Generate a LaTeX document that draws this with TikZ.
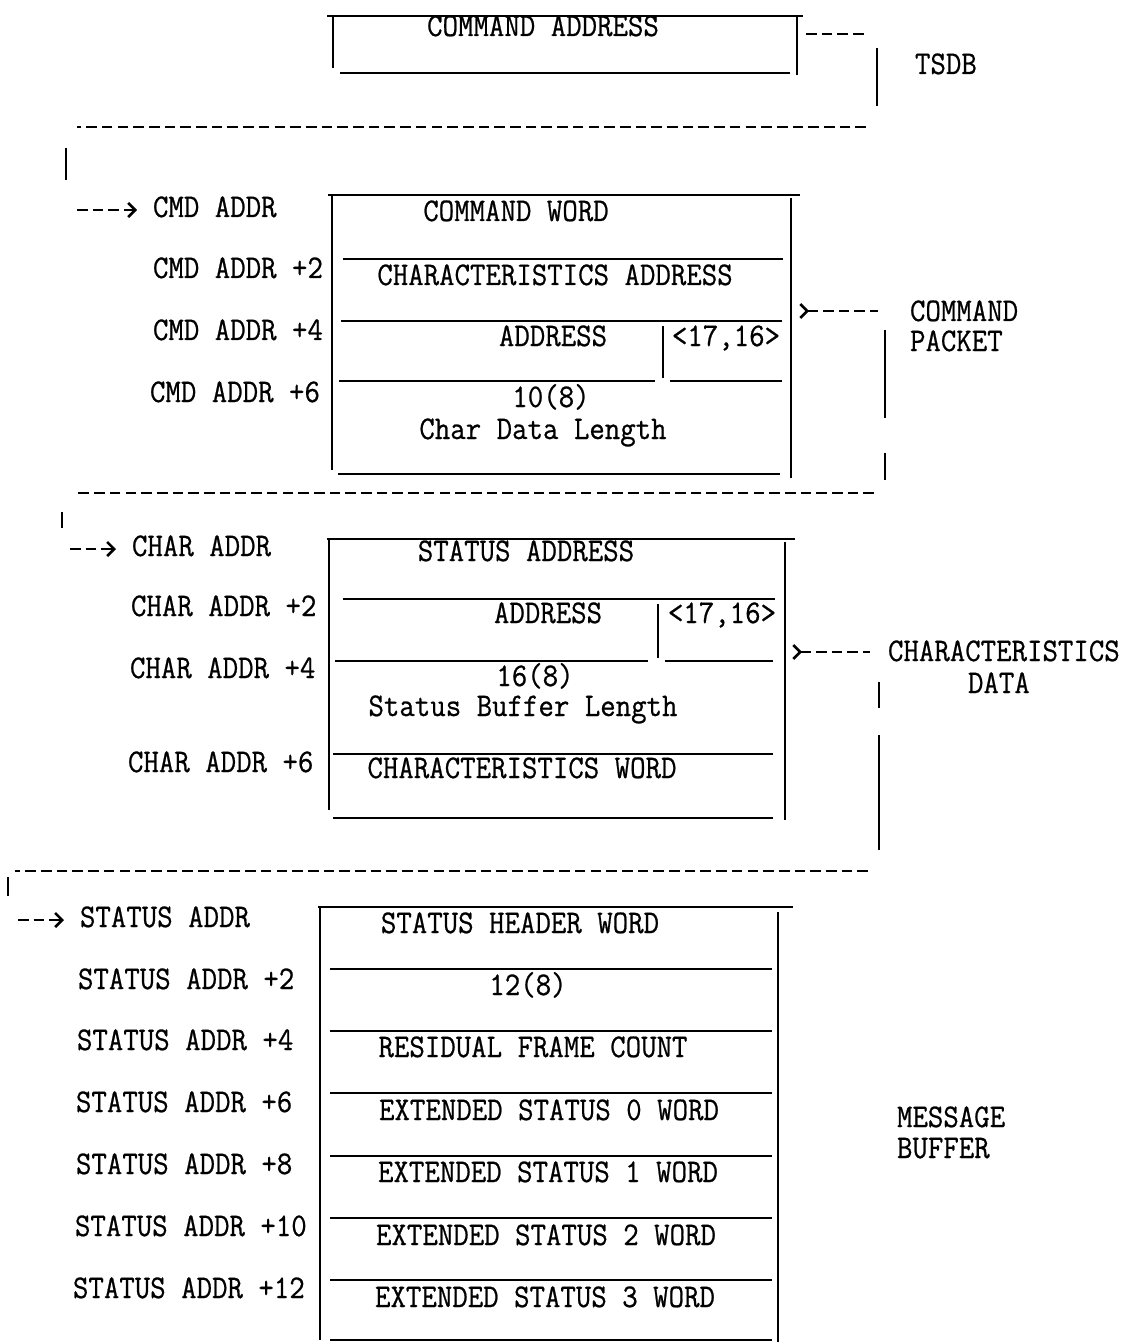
\documentclass[tikz,border=0pt]{standalone}
\usepackage{fontspec}
\setmonofont{Latin Modern Mono}[FakeBold=0.7]
\usetikzlibrary{arrows.meta}
\begin{document}
\begin{tikzpicture}[x=0.5pt,y=-0.5pt,
  tw/.style={font=\ttfamily\fontsize{15}{18}\selectfont, inner sep=0pt, outer sep=0pt, yscale=1.1, transform shape},
  lab/.style={tw, anchor=base west},
  cell/.style={tw, anchor=base},
  ln/.style={line width=1.2pt},
  dsh/.style={line width=1.3pt, dash pattern=on 5.3pt off 2.55pt},
  tipk/.style={},
  ptr/.style={dsh, -{Straight Barb[length=3.5pt,width=7pt,line width=1.3pt]}},
  brc/.style={dsh, {Straight Barb[reversed,length=3.5pt,width=7pt,line width=1.3pt]}-}
]
\useasboundingbox (0,0) rectangle (1142,1342);

% ---------------- TSDB ----------------
\node[cell] (cmdaddr) at (543,36) {COMMAND ADDRESS};
\node[lab] (tsdb) at (915,74) {TSDB};
\draw[ln] (327,16) -- (803,16);
\draw[ln] (333,15) -- (333,68);
\draw[ln] (797,16) -- (797,75);
\draw[ln] (340,73) -- (790,73);
\coordinate (t1) at (806,34); \coordinate (t2) at (866,34);
\draw[dsh] (t1) -- (t2);
\coordinate (t3) at (877,48); \coordinate (t4) at (877,106);
\draw[ln] (t3) -- (t4);
\coordinate (t5) at (77,127); \coordinate (t6) at (866,127);
\draw[dsh] (t6) -- (t5);
\coordinate (t7) at (66,148); \coordinate (t8) at (66,180);
\draw[ln] (t7) -- (t8);

% ---------------- COMMAND PACKET ----------------
\node[lab] (cmd0) at (153,217) {CMD ADDR};
\coordinate (a0) at (77,210);
\draw[ptr] (a0) -- ([xshift=-8pt]cmd0.west |- a0);
\node[lab] (cmd2) at (153,278) {CMD ADDR +2};
\node[lab] (cmd4) at (153,340) {CMD ADDR +4};
\node[lab] (cmd6) at (150,402) {CMD ADDR +6};

\node[cell] (cw) at (516,221) {COMMAND WORD};
\node[cell] (ca) at (555,285) {CHARACTERISTICS ADDRESS};
\node[cell] (ad1) at (553,346) {ADDRESS};
\node[cell] (bits1) at (726,346) {<17,16>};
\node[cell] (len1) at (551,407) {10(8)};
\node[cell] (cdl) at (543,439) {Char Data Length};

\draw[ln] (328,195) -- (800,195);
\draw[ln] (332,196) -- (332,470);
\draw[ln] (791,198) -- (791,478);
\draw[ln] (343,259) -- (783,259);
\draw[ln] (341,321) -- (782,321);
\draw[ln] (339,381) -- (655,381);
\draw[ln] (670,381) -- (782,381);
\draw[ln] (663,326) -- (663,378);
\draw[ln] (338,474) -- (780,474);

\node[lab] (cp1) at (910,321) {COMMAND};
\node[lab] (cp2) at (910,351) {PACKET};
\coordinate (b1) at (799,311); \coordinate (b2) at (878,311);
\draw[brc] (b1) -- (b2);
\draw[ln] (885,330) -- (885,418);
\draw[ln] (885,453) -- (885,480);
\coordinate (c1) at (75,493); \coordinate (c2) at (874,493);
\draw[dsh] (c2) -- (c1);
\coordinate (c3) at (62,512); \coordinate (c4) at (62,528);
\draw[ln] (c3) -- (c4);

% ---------------- CHARACTERISTICS DATA ----------------
\node[lab] (ch0) at (132,556) {CHAR ADDR};
\coordinate (a1) at (70,549);
\draw[ptr] (a1) -- ([xshift=-8pt]ch0.west |- a1);
\node[lab] (ch2) at (131,616) {CHAR ADDR +2};
\node[lab] (ch4) at (130,678) {CHAR ADDR +4};
\node[lab] (ch6) at (128,772) {CHAR ADDR +6};

\node[cell] (sa) at (526,561) {STATUS ADDRESS};
\node[cell] (ad2) at (548,623) {ADDRESS};
\node[cell] (bits2) at (722,623) {<17,16>};
\node[cell] (len2) at (535,686) {16(8)};
\node[cell] (sbl) at (523,716) {Status Buffer Length};
\node[cell] (chw) at (522,778) {CHARACTERISTICS WORD};

\draw[ln] (327,539) -- (795,539);
\draw[ln] (329,540) -- (329,810);
\draw[ln] (785,542) -- (785,820);
\draw[ln] (343,599) -- (775,599);
\draw[ln] (335,661) -- (648,661);
\draw[ln] (665,661) -- (773,661);
\draw[ln] (658,604) -- (658,658);
\draw[ln] (333,754) -- (773,754);
\draw[ln] (333,818) -- (773,818);

\node[lab] (cd1) at (888,661) {CHARACTERISTICS};
\node[lab] (cd2) at (968,693) {DATA};
\coordinate (b3) at (792,652); \coordinate (b4) at (870,652);
\draw[brc] (b3) -- (b4);
\draw[ln] (879,682) -- (879,708);
\draw[ln] (879,735) -- (879,850);
\coordinate (d1) at (15,871); \coordinate (d2) at (868,871);
\draw[dsh] (d2) -- (d1);
\coordinate (d3) at (8,877); \coordinate (d4) at (8,896);
\draw[ln] (d3) -- (d4);

% ---------------- MESSAGE BUFFER ----------------
\node[lab] (st0) at (80,927) {STATUS ADDR};
\coordinate (a2) at (18,920);
\draw[ptr] (a2) -- ([xshift=-8pt]st0.west |- a2);
\node[lab] (st2) at (78,989) {STATUS ADDR +2};
\node[lab] (st4) at (77,1050) {STATUS ADDR +4};
\node[lab] (st6) at (76,1112) {STATUS ADDR +6};
\node[lab] (st8) at (76,1174) {STATUS ADDR +8};
\node[lab] (st10) at (75,1236) {STATUS ADDR +10};
\node[lab] (st12) at (73,1298) {STATUS ADDR +12};

\node[cell] (shw) at (520,933) {STATUS HEADER WORD};
\node[cell] (len3) at (528,995) {12(8)};
\node[cell] (rfc) at (533,1057) {RESIDUAL FRAME COUNT};
\node[cell] (es0) at (549,1120) {EXTENDED STATUS 0 WORD};
\node[cell] (es1) at (548,1182) {EXTENDED STATUS 1 WORD};
\node[cell] (es2) at (546,1245) {EXTENDED STATUS 2 WORD};
\node[cell] (es3) at (545,1307) {EXTENDED STATUS 3 WORD};

\draw[ln] (318,907) -- (793,907);
\draw[ln] (320,908) -- (320,1340);
\draw[ln] (778,912) -- (778,1342);
\foreach \yy in {969,1031,1093,1156,1218,1280,1340}
  \draw[ln] (330,\yy) -- (772,\yy);

\node[lab] (mb1) at (897,1127) {MESSAGE};
\node[lab] (mb2) at (897,1158) {BUFFER};
\end{tikzpicture}
\end{document}
